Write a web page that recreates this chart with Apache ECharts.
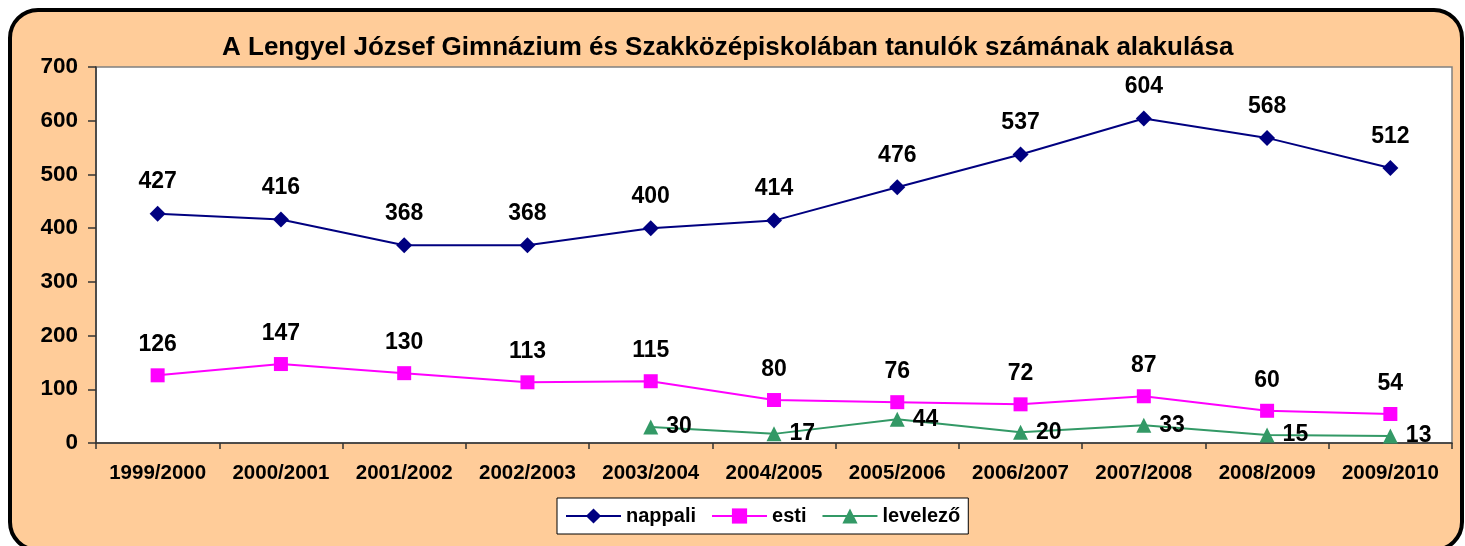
<!DOCTYPE html>
<html>
<head>
<meta charset="utf-8">
<script src="https://cdn.jsdelivr.net/npm/echarts@6/dist/echarts.min.js"></script>
<style>
html,body{margin:0;padding:0;background:#fff;}
#c{width:1465px;height:546px;}
</style>
</head>
<body>
<div id="c"></div>
<script>
const categories = ['1999/2000','2000/2001','2001/2002','2002/2003','2003/2004','2004/2005','2005/2006','2006/2007','2007/2008','2008/2009','2009/2010'];
const nappali = [427,416,368,368,400,414,476,537,604,568,512];
const esti = [126,147,130,113,115,80,76,72,87,60,54];
const levelezo = [null,null,null,null,30,17,44,20,33,15,13];
const yMin = 0, yMax = 700, yStep = 100;
const titleText = 'A Lengyel József Gimnázium és Szakközépiskolában tanulók számának alakulása';

const FONT = '"Liberation Sans", Arial, sans-serif';
const chart = echarts.init(document.getElementById('c'), null, {renderer:'canvas'});
const lbl = (pos, dist) => ({show:true, position:pos, distance:dist, color:'#000', fontSize:23, fontWeight:'bold', fontFamily:FONT});
chart.setOption({
  animation:false,
  backgroundColor:'transparent',
  graphic:[{type:'rect', z:-10, silent:true, shape:{x:10,y:10,width:1452,height:540,r:28}, style:{fill:'#FFCC99', stroke:'#000', lineWidth:4}}],
  title:{text:titleText, left:222, top:35, itemGap:0, padding:0, textStyle:{fontSize:26, fontWeight:'bold', fontFamily:FONT, color:'#000'}},
  grid:{left:96, top:67, right:13, bottom:103, show:true, backgroundColor:'#fff', borderColor:'#808080', borderWidth:1.5, containLabel:false},
  legend:{left:557, top:498, backgroundColor:'#fff', borderColor:'#000', borderWidth:1, padding:[8,8,8,8], itemWidth:55, itemHeight:19, itemGap:15,
    textStyle:{fontSize:20, fontWeight:'bold', fontFamily:FONT, color:'#000'},
    data:['nappali','esti','levelező']},
  xAxis:{type:'category', data:categories, boundaryGap:true,
    axisLine:{lineStyle:{color:'#333', width:1.5}},
    axisTick:{show:true, inside:false, length:6, lineStyle:{color:'#333', width:1.5}},
    axisLabel:{margin:20, fontSize:20.5, fontWeight:'bold', fontFamily:FONT, color:'#000', interval:0},
    splitLine:{show:false}},
  yAxis:{type:'value', min:yMin, max:yMax, interval:yStep,
    axisLine:{show:true, lineStyle:{color:'#333', width:1.5}},
    axisTick:{show:true, inside:false, length:8, lineStyle:{color:'#333', width:1.5}},
    axisLabel:{margin:18, fontSize:22.5, fontWeight:'bold', fontFamily:FONT, color:'#000'},
    splitLine:{show:false}},
  series:[
    {name:'nappali', type:'line', data:nappali, color:'#000080', symbol:'diamond', symbolSize:16, lineStyle:{width:2, color:'#000080'}, itemStyle:{color:'#000080'}, label:lbl('top',12)},
    {name:'esti', type:'line', data:esti, color:'#FF00FF', symbol:'rect', symbolSize:14, lineStyle:{width:2, color:'#FF00FF'}, itemStyle:{color:'#FF00FF'}, label:lbl('top',12)},
    {name:'levelező', type:'line', data:levelezo, color:'#339966', symbol:'triangle', symbolSize:15, lineStyle:{width:2, color:'#339966'}, itemStyle:{color:'#339966'}, label:lbl('right',8)}
  ]
});
</script>
</body>
</html>
